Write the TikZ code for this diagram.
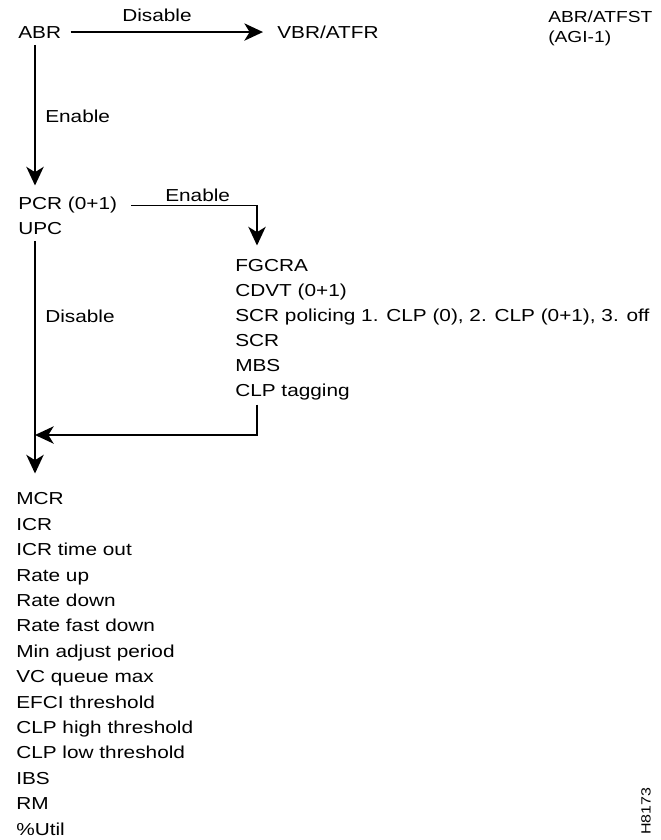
\documentclass[tikz,border=0pt]{standalone}
\usepackage{fontspec}
\setmainfont{Liberation Sans}[FakeStretch=1.2]
\usetikzlibrary{arrows.meta,calc}
\begin{document}
\begin{tikzpicture}[x=0.75pt,y=-0.75pt,
  lbl/.style={inner sep=0pt,anchor=base west,font=\fontsize{13}{18.75}\selectfont},
  blk/.style={inner sep=0pt,anchor=north west,align=left,font=\fontsize{13}{18.75}\selectfont},
  conn/.style={line width=1.2pt},
  arr/.style={conn,-{Stealth[length=14pt,width=13pt,inset=4pt]}}]
\useasboundingbox (0,0) rectangle (661,840);
% columns
\coordinate (lx) at (35,0);
\coordinate (rx) at (257,0);
\coordinate (join) at (35,435);
% texts
\node[lbl] (abr) at (18,38) {ABR};
\node[lbl] (dis1) at (122,21) {Disable};
\node[lbl] (vbr) at (277,38) {VBR/ATFR};
\node[blk,font=\fontsize{12}{15}\selectfont] (abrst) at (548,10.5) {ABR/ATFST\\(AGI-1)};
\node[lbl] (en1) at (45,122) {Enable};
\node[blk] (pcr) at (18,196.5) {PCR (0+1)\\UPC};
\node[lbl] (en2) at (165,201) {Enable};
\node[blk] (params) at (235,259.5) {FGCRA\\CDVT (0+1)\\SCR policing 1. CLP (0), 2. CLP (0+1), 3. off\\SCR\\MBS\\CLP tagging};
\node[lbl] (dis2) at (45,322) {Disable};
\node[blk,font=\fontsize{13}{19.05}\selectfont] (list) at (16,492.5) {MCR\\ICR\\ICR time out\\Rate up\\Rate down\\Rate fast down\\Min adjust period\\VC queue max\\EFCI threshold\\CLP high threshold\\CLP low threshold\\IBS\\RM\\\%Util};
\node[inner sep=0pt,rotate=90,font=\fontsize{10}{12}\selectfont] (fig) at (646,811) {H8173};
% connectors
\draw[arr,shorten <=7pt,shorten >=10.5pt] (abr.east) -- (abr.east -| vbr.west);
\draw[arr,shorten <=5pt] (abr.south -| lx) -- ($(pcr.north -| lx)+(0,-11)$);
\draw[arr] ($(pcr.north east)+(14,9)$) -| ($(params.north -| rx)+(0,-14)$);
\draw[arr] ($(params.south -| rx)+(0,4)$) |- (join);
\draw[arr,shorten <=4.5pt] (pcr.south -| lx) -- ($(list.north -| lx)+(0,-19)$);
\end{tikzpicture}
\end{document}
